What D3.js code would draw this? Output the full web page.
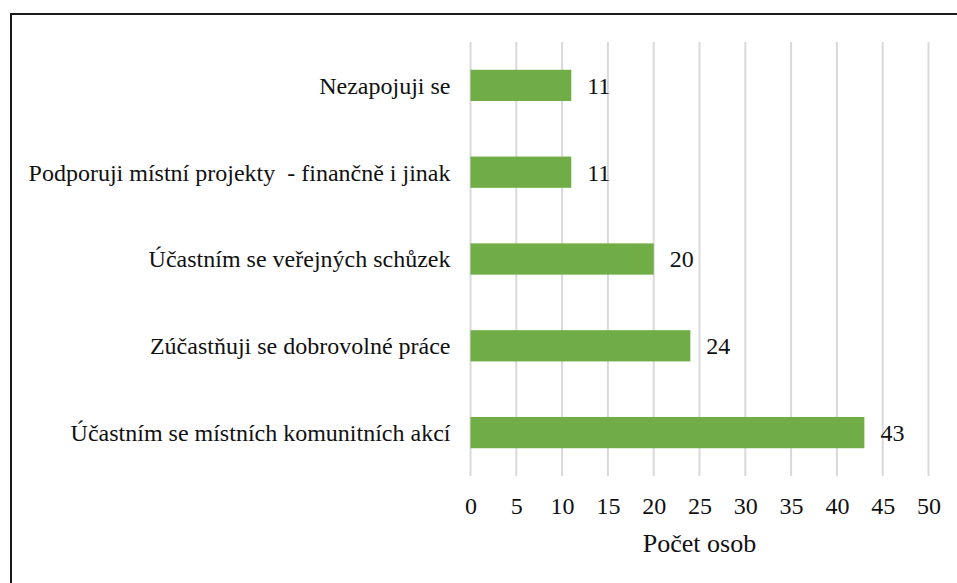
<!DOCTYPE html>
<html>
<head>
<meta charset="UTF-8">
<title>Počet osob</title>
<script src="https://d3js.org/d3.v7.min.js"></script>
<style>
  body { margin: 0; background: #fff; }
  svg { display: block; }
  .lbl { white-space: pre; }
</style>
</head>
<body>
<svg id="chart" width="957" height="583"></svg>
<script>
// categories top to bottom, with counts
const categories = [
  "Nezapojuji se",
  "Podporuji místní projekty  - finančně i jinak",
  "Účastním se veřejných schůzek",
  "Zúčastňuji se dobrovolné práce",
  "Účastním se místních komunitních akcí"
];
const counts = [11, 11, 20, 24, 43];
const xTicks = [0, 5, 10, 15, 20, 25, 30, 35, 40, 45, 50];
const axisTitle = "Počet osob";

const serif = '"Liberation Serif"';
const svg = d3.select("#chart");

// outer frame (runs off the right and bottom edges)
svg.append("rect")
  .attr("x", 11).attr("y", 14)
  .attr("width", 960).attr("height", 600)
  .attr("fill", "none")
  .attr("stroke", "#1a1a1a")
  .attr("stroke-width", 2);

const plotLeft = 470.5, plotRight = 928.5, plotTop = 42, plotBottom = 476;

const x = d3.scaleLinear().domain([0, 50]).range([plotLeft, plotRight]);
const y = d3.scaleBand().domain(categories).range([plotTop, plotBottom]).paddingInner(0.64).paddingOuter(0.32);

// gridlines
svg.append("g")
  .selectAll("line")
  .data(xTicks)
  .join("line")
  .attr("x1", d => x(d)).attr("x2", d => x(d))
  .attr("y1", plotTop).attr("y2", plotBottom)
  .attr("stroke", "#d9d9d9")
  .attr("stroke-width", 2);

// bars
svg.append("g")
  .selectAll("rect")
  .data(categories)
  .join("rect")
  .attr("x", x(0))
  .attr("y", d => y(d))
  .attr("width", (d, i) => x(counts[i]) - x(0))
  .attr("height", y.bandwidth())
  .attr("fill", "#70ad47");

// value labels
svg.append("g")
  .selectAll("text")
  .data(categories)
  .join("text")
  .attr("x", (d, i) => x(counts[i]) + 16)
  .attr("y", d => y(d) + y.bandwidth() / 2)
  .attr("dy", "0.35em")
  .style("font-family", serif)
  .style("font-size", "24px")
  .attr("fill", "#111")
  .text((d, i) => counts[i]);

// category labels
svg.append("g")
  .selectAll("text")
  .data(categories)
  .join("text")
  .attr("class", "lbl")
  .attr("x", plotLeft - 20)
  .attr("y", d => y(d) + y.bandwidth() / 2)
  .attr("dy", "0.35em")
  .attr("text-anchor", "end")
  .style("font-family", serif)
  .style("font-size", "24px")
  .attr("fill", "#111")
  .text(d => d);

// x axis
const xAxis = svg.append("g")
  .attr("transform", `translate(0,${plotBottom})`)
  .call(d3.axisBottom(x).tickValues(xTicks).tickSize(0).tickPadding(21));
xAxis.select(".domain").remove();
xAxis.selectAll("text")
  .style("font-family", serif)
  .style("font-size", "24px")
  .attr("fill", "#111");

svg.append("text")
  .attr("x", (plotLeft + plotRight) / 2)
  .attr("y", 552)
  .attr("text-anchor", "middle")
  .style("font-family", serif)
  .style("font-size", "26px")
  .attr("fill", "#111")
  .text(axisTitle);
</script>
</body>
</html>
